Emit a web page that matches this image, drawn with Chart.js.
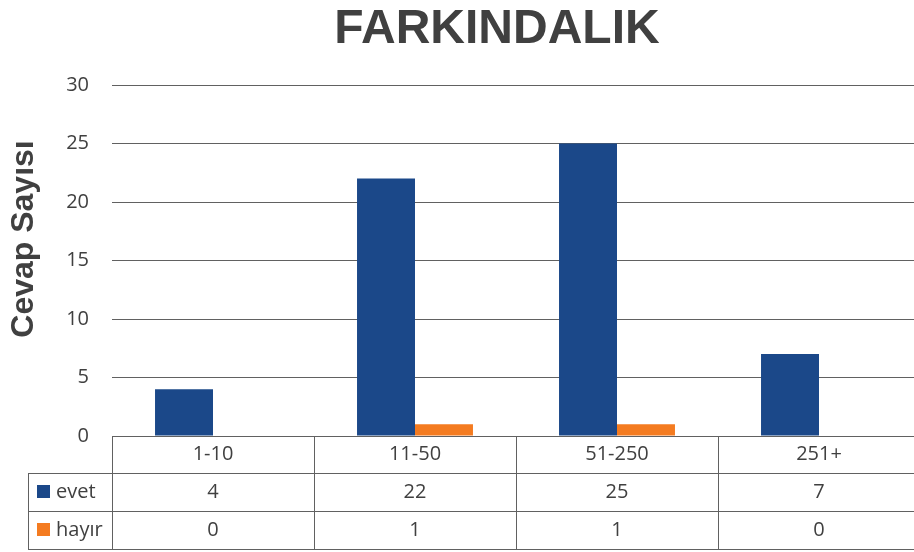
<!DOCTYPE html>
<html>
<head>
	<title>FARKINDALIK</title>
	<style>
        body { margin:0; overflow:hidden; background:white; }
        #wrap { width:920px; height:552px; }
    </style>
</head>
<body>
<div id="wrap"><canvas id="myChart" width="920" height="552"></canvas></div>
<script src="https://cdn.jsdelivr.net/npm/chart.js@4.4.0/dist/chart.umd.min.js"></script>
<script type="text/javascript">

	var categories = ['1-10', '11-50', '51-250', '251+'];
	var seriesNames = ['evet', 'hayır'];
	var evetValues = [4, 22, 25, 7];
	var hayirValues = [0, 1, 1, 0];
	var yTicks = [0, 5, 10, 15, 20, 25, 30];

	var BLUE = '#1b4889';
	var ORANGE = '#f47b20';
	var TEXT = '#404040';
	var LINE = '#616161';

	// title + y axis title, drawn by hand so they sit where the original has them
	var titlesPlugin = {
		id: 'titles',
		afterDraw: function(chart) {
			var ctx = chart.ctx;
			ctx.save();
			ctx.fillStyle = TEXT;
			ctx.font = 'bold 48px "Liberation Sans", Arial, sans-serif';
			ctx.textAlign = 'center';
			ctx.textBaseline = 'alphabetic';
			ctx.fillText('FARKINDALIK', 497, 43);

			ctx.translate(33, 239);
			ctx.rotate(-Math.PI / 2);
			ctx.font = 'bold 32px "Liberation Sans", Arial, sans-serif';
			ctx.fillText('Cevap Sayısı', 0, 0);
			ctx.restore();
		}
	};

	// data table under the plot
	var tablePlugin = {
		id: 'dataTable',
		afterDraw: function(chart) {
			var ctx = chart.ctx;
			var x = chart.scales.x;
			var area = chart.chartArea;
			var half = (x.getPixelForValue(1) - x.getPixelForValue(0)) / 2;
			var rows = [area.bottom, area.bottom + 37, area.bottom + 75, area.bottom + 113];
			var leftEdge = 28;
			var rightEdge = area.right;
			var series = [evetValues, hayirValues];
			var colors = [BLUE, ORANGE];

			ctx.save();
			ctx.strokeStyle = LINE;
			ctx.lineWidth = 1;
			ctx.beginPath();
			// horizontals
			for (var r = 1; r < rows.length; r++) {
				ctx.moveTo(leftEdge, rows[r] + 0.5);
				ctx.lineTo(rightEdge, rows[r] + 0.5);
			}
			// verticals
			for (var i = 0; i < categories.length; i++) {
				var bx = Math.round(x.getPixelForValue(i) - half) + 0.5;
				ctx.moveTo(bx, rows[0]);
				ctx.lineTo(bx, rows[3]);
			}
			ctx.moveTo(leftEdge + 0.5, rows[1]);
			ctx.lineTo(leftEdge + 0.5, rows[3]);
			ctx.stroke();

			ctx.fillStyle = TEXT;
			ctx.font = '20px "Open Sans", "Liberation Sans", sans-serif';
			ctx.textAlign = 'center';
			ctx.textBaseline = 'middle';
			for (var i = 0; i < categories.length; i++) {
				var cx = x.getPixelForValue(i);
				ctx.fillText(categories[i], cx, (rows[0] + rows[1]) / 2);
				for (var s = 0; s < series.length; s++) {
					ctx.fillText(String(series[s][i]), cx, (rows[s + 1] + rows[s + 2]) / 2);
				}
			}
			ctx.textAlign = 'left';
			for (var s = 0; s < series.length; s++) {
				var cy = (rows[s + 1] + rows[s + 2]) / 2;
				ctx.fillStyle = colors[s];
				ctx.fillRect(37, cy - 7, 13, 13);
				ctx.fillStyle = TEXT;
				ctx.fillText(seriesNames[s], 56, cy);
			}
			ctx.restore();
		}
	};

	var config = {
		type: 'bar',
		data: {
			labels: categories,
			datasets: [{
				label: seriesNames[0],
				backgroundColor: BLUE,
				data: evetValues
			}, {
				label: seriesNames[1],
				backgroundColor: ORANGE,
				data: hayirValues
			}]
		},
		options: {
			responsive: false,
			animation: false,
			layout: { padding: { top: 85, bottom: 116, left: 0, right: 0 } },
			datasets: {
				bar: { categoryPercentage: 0.574, barPercentage: 1.0 }
			},
			plugins: {
				legend: { display: false },
				title: { display: false },
				tooltip: { enabled: false }
			},
			scales: {
				x: { display: false },
				y: {
					min: yTicks[0],
					max: yTicks[yTicks.length - 1],
					afterFit: function(scale) { scale.width = 112; },
					afterBuildTicks: function(scale) {
						scale.ticks = yTicks.map(function(v) { return { value: v }; });
					},
					border: { display: false },
					grid: { color: LINE, lineWidth: 1, drawTicks: false },
					ticks: {
						padding: 23,
						color: TEXT,
						font: { family: '"Open Sans", "Liberation Sans", sans-serif', size: 20 }
					}
				}
			}
		},
		plugins: [titlesPlugin, tablePlugin]
	};

	window.onload = function() {
		var ctx = document.getElementById('myChart').getContext('2d');
		window.myBar = new Chart(ctx, config);
	};

</script>
</body>
</html>
